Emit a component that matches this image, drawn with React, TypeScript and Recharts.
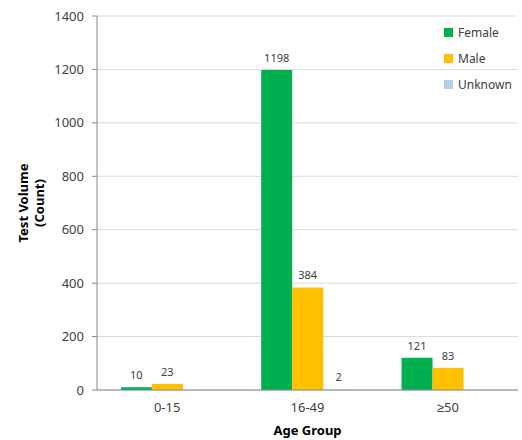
import { BarChart, Bar, XAxis, YAxis, CartesianGrid, Legend, LabelList } from 'recharts'

const ageGroups = ['0-15', '16-49', '≥50']
const female = [10, 1198, 121]
const male = [23, 384, 83]
const unknown: (number | null)[] = [null, 2, null]
const yTicks = [0, 200, 400, 600, 800, 1000, 1200, 1400]

const series = [
    { key: 'female', name: 'Female', color: '#00B050' },
    { key: 'male', name: 'Male', color: '#FFC000' },
    { key: 'unknown', name: 'Unknown', color: '#B9CDE5' },
]

const data = ageGroups.map((group, i) => ({
    group,
    idx: i,
    female: female[i],
    male: male[i],
    unknown: unknown[i],
}))

const font = '"Noto Sans", sans-serif'

const renderValue = (props: any) => {
    const { x, y, width, value } = props
    if (value === null || value === undefined) return null
    return (
        <text x={x + width / 2} y={y - 8} textAnchor="middle" fontSize={11} fill="#404040" fontFamily={font}>
            {value}
        </text>
    )
}

const renderYLabel = (props: any) => {
    const { viewBox } = props
    const cy = viewBox.y + viewBox.height / 2
    const cx = 31
    return (
        <text
            transform={`rotate(-90, ${cx}, ${cy})`}
            x={cx}
            y={cy}
            textAnchor="middle"
            fontSize={13}
            fontWeight="bold"
            fill="#000"
            fontFamily={font}
        >
            <tspan x={cx} dy={-3}>Test Volume</tspan>
            <tspan x={cx} dy={16}>(Count)</tspan>
        </text>
    )
}

const renderLegend = () => (
    <div style={{ fontFamily: font, fontSize: 12, color: '#404040' }}>
        {series.map((s) => (
            <div key={s.key} style={{ display: 'flex', alignItems: 'center', height: 26 }}>
                <span style={{ width: 9, height: 9, background: s.color, marginRight: 5, display: 'inline-block' }} />
                <span>{s.name}</span>
            </div>
        ))}
    </div>
)

export default function App() {
    return (
        <div style={{ position: 'absolute', left: 0, top: 0, background: '#fff' }}>
            <BarChart
                width={522}
                height={440}
                data={data}
                margin={{ top: 16, right: 4, left: 0, bottom: 0 }}
                barCategoryGap="17%"
                barGap={0}
            >
                <CartesianGrid vertical={false} stroke="#D9D9D9" />
                <XAxis
                    xAxisId="bounds"
                    type="number"
                    dataKey="idx"
                    domain={[0, 3]}
                    ticks={[0, 1, 2, 3]}
                    height={0}
                    tick={false}
                    axisLine={false}
                    tickLine={{ stroke: '#868686' }}
                    tickSize={5}
                />
                <XAxis
                    dataKey="group"
                    height={50}
                    tickLine={false}
                    axisLine={{ stroke: '#868686' }}
                    tick={{ fontSize: 13, fill: '#404040', fontFamily: font }}
                    tickSize={5}
                    tickMargin={8}
                    label={{
                        value: 'Age Group',
                        position: 'insideBottom',
                        offset: 5,
                        fontSize: 13,
                        fontWeight: 'bold',
                        fill: '#000',
                        fontFamily: font,
                    }}
                />
                <YAxis
                    width={97}
                    domain={[0, 1400]}
                    ticks={yTicks}
                    interval={0}
                    axisLine={{ stroke: '#868686' }}
                    tickLine={{ stroke: '#868686' }}
                    tickSize={5}
                    tickMargin={8}
                    tick={{ fontSize: 13, fill: '#404040', fontFamily: font }}
                    label={renderYLabel}
                />
                <Legend
                    layout="vertical"
                    verticalAlign="middle"
                    align="center"
                    content={renderLegend}
                    wrapperStyle={{ top: 19, left: 444, width: 80, height: 80 }}
                />
                {series.map((s) => (
                    <Bar key={s.key} dataKey={s.key} name={s.name} fill={s.color} isAnimationActive={false}>
                        <LabelList dataKey={s.key} content={renderValue} />
                    </Bar>
                ))}
            </BarChart>
        </div>
    )
}
